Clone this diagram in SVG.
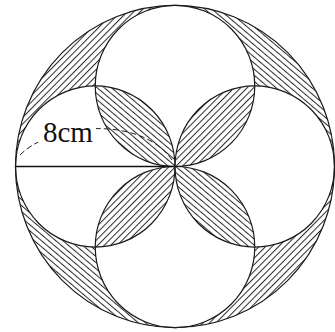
<svg xmlns="http://www.w3.org/2000/svg" width="335" height="332" viewBox="0 0 335 332">
  <style>
    .outline { fill: none; stroke: #1a1a1a; stroke-width: 1.2; }
    .hatchA { fill: url(#hatchSlash); stroke: none; }
    .hatchB { fill: url(#hatchBack); stroke: none; }
    .label { font-family: "Liberation Serif", "Times New Roman", serif; font-size: 29px; fill: #111; }
    .dim { fill: none; stroke: #222; stroke-width: 1; stroke-dasharray: 6 3; }
  </style>
  <defs>
    <pattern id="hatchSlash" patternUnits="userSpaceOnUse" width="4.6" height="10" patternTransform="rotate(45)">
      <line x1="0.5" y1="0" x2="0.5" y2="10" stroke="#2a2a2a" stroke-width="1"/>
    </pattern>
    <pattern id="hatchBack" patternUnits="userSpaceOnUse" width="4.6" height="10" patternTransform="rotate(-50)">
      <line x1="0.5" y1="0" x2="0.5" y2="10" stroke="#2a2a2a" stroke-width="1"/>
    </pattern>
    <mask id="textGap">
      <rect x="0" y="0" width="335" height="332" fill="#fff"/>
      <rect x="38" y="116" width="58" height="30" fill="#000"/>
    </mask>
  </defs>

  <g id="figure" transform="translate(175 166.5) scale(1 1.01)">
    <g id="shaded-outer">
      <path class="hatchA" d="M-159.5,0 A159.5,159.5 0 0 1 0,-159.5 A79.75,79.75 0 0 0 -79.75,-79.75 A79.75,79.75 0 0 0 -159.5,0 Z"/>
      <path class="hatchB" d="M0,-159.5 A159.5,159.5 0 0 1 159.5,0 A79.75,79.75 0 0 0 79.75,-79.75 A79.75,79.75 0 0 0 0,-159.5 Z"/>
      <path class="hatchA" d="M159.5,0 A159.5,159.5 0 0 1 0,159.5 A79.75,79.75 0 0 0 79.75,79.75 A79.75,79.75 0 0 0 159.5,0 Z"/>
      <path class="hatchB" d="M0,159.5 A159.5,159.5 0 0 1 -159.5,0 A79.75,79.75 0 0 0 -79.75,79.75 A79.75,79.75 0 0 0 0,159.5 Z"/>
    </g>
    <g id="shaded-petals">
      <path class="hatchB" d="M0,0 A79.75,79.75 0 0 0 -79.75,-79.75 A79.75,79.75 0 0 0 0,0 Z"/>
      <path class="hatchA" d="M0,0 A79.75,79.75 0 0 0 79.75,-79.75 A79.75,79.75 0 0 0 0,0 Z"/>
      <path class="hatchB" d="M0,0 A79.75,79.75 0 0 0 79.75,79.75 A79.75,79.75 0 0 0 0,0 Z"/>
      <path class="hatchA" d="M0,0 A79.75,79.75 0 0 0 -79.75,79.75 A79.75,79.75 0 0 0 0,0 Z"/>
    </g>
    <g id="big-circle"><circle class="outline" cx="0" cy="0" r="159.5"/></g>
    <g id="circle-top"><circle class="outline" cx="0" cy="-79.75" r="79.75"/></g>
    <g id="circle-right"><circle class="outline" cx="79.75" cy="0" r="79.75"/></g>
    <g id="circle-bottom"><circle class="outline" cx="0" cy="79.75" r="79.75"/></g>
    <g id="circle-left"><circle class="outline" cx="-79.75" cy="0" r="79.75"/></g>
  </g>

  <g id="connectors">
    <line x1="15.5" y1="166.5" x2="175" y2="166.5" stroke="#111" stroke-width="1.3"/>
    <path class="dim" mask="url(#textGap)" d="M20,155 C50,124 140,114 172,160"/>
  </g>

  <g id="label-radius">
    <text class="label" x="43" y="142">8cm</text>
  </g>
</svg>
